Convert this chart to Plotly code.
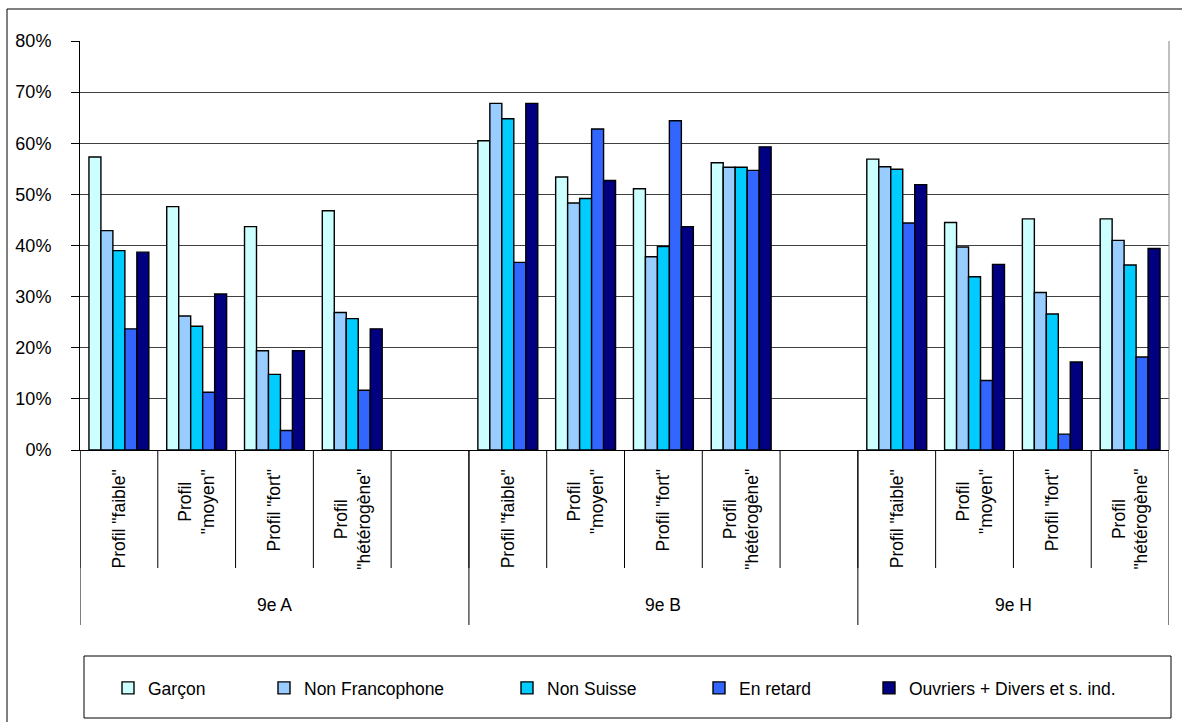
import plotly.graph_objects as go

# ---------------- data ----------------
groups = ["9e A", "9e B", "9e H"]
groups_with_blank_slot = ["9e A", "9e B"]
profiles = ['Profil "faible"', 'Profil<br>"moyen"', 'Profil "fort"', 'Profil<br>"hétérogène"']

series_names = ["Garçon", "Non Francophone", "Non Suisse", "En retard",
                "Ouvriers + Divers et s. ind."]
series_colors = ["#CCFFFF", "#99CCFF", "#00CCFF", "#3366FF", "#000080"]

# values in %, order: 9e A (4 profiles), 9e B (4 profiles), 9e H (4 profiles)
garcon = [57.3, 47.6, 43.7, 46.8, 60.5, 53.4, 51.1, 56.2, 56.9, 44.5, 45.2, 45.2]
non_francophone = [42.9, 26.2, 19.4, 26.9, 67.8, 48.3, 37.8, 55.3, 55.4, 39.7, 30.8, 41.0]
non_suisse = [39.0, 24.2, 14.8, 25.7, 64.8, 49.2, 39.8, 55.3, 54.9, 33.9, 26.6, 36.2]
en_retard = [23.7, 11.3, 3.8, 11.7, 36.7, 62.8, 64.4, 54.7, 44.4, 13.6, 3.1, 18.2]
ouvriers = [38.7, 30.5, 19.4, 23.7, 67.8, 52.7, 43.7, 59.3, 51.9, 36.3, 17.2, 39.4]

series_values = [garcon, non_francophone, non_suisse, en_retard, ouvriers]

y_ticks = [0, 10, 20, 30, 40, 50, 60, 70, 80]
y_tick_labels = ["0%", "10%", "20%", "30%", "40%", "50%", "60%", "70%", "80%"]

# ---------------- category slots ----------------
slot_ids = []        # all slots (incl. blanks), in axis order
data_ids = []        # slots carrying data
slot_label = {}
group_slots = {}
for g in groups:
    group_slots[g] = []
    for j, p in enumerate(profiles):
        sid = f"{g}|{j}"
        slot_ids.append(sid)
        data_ids.append(sid)
        slot_label[sid] = p
        group_slots[g].append(sid)
    if g in groups_with_blank_slot:
        sid = f"{g}|blank"
        slot_ids.append(sid)
        group_slots[g].append(sid)

# ---------------- layout geometry (pixels) ----------------
W, H = 1182, 722
ML, MR, MT, MB = 80, 13, 41, 272
PW = W - ML - MR
PH = H - MT - MB
AXIS_Y = MT + PH


def py(y_px):
    return (AXIS_Y - y_px) / PH


def pxx(x_px):
    return (x_px - ML) / PW


FONT = "Liberation Sans, Arial, sans-serif"

# legend item left positions (px) for each series
legend_left_px = [108, 264, 507, 699, 869]
legend_keys = ["legend", "legend2", "legend3", "legend4", "legend5"]

fig = go.Figure()
for name, color, vals, lk in zip(series_names, series_colors, series_values, legend_keys):
    fig.add_trace(go.Bar(
        x=data_ids, y=vals, name=name, legend=lk,
        marker=dict(color=color, line=dict(color="black", width=1.4)),
    ))

shapes = []
annotations = []
n_slots = len(slot_ids)

# inner dividers and rotated profile labels
for i, sid in enumerate(slot_ids):
    shapes.append(dict(type="line", xref="x", yref="paper",
                       x0=i - 0.5, x1=i - 0.5, y0=0, y1=py(568),
                       line=dict(color="black", width=1)))
    if sid in slot_label:
        annotations.append(dict(
            x=sid, xref="x", y=py(467), yref="paper",
            text=slot_label[sid], textangle=-90, showarrow=False,
            xanchor="center", yanchor="top", align="center",
            font=dict(family=FONT, size=17.5, color="black")))

# group dividers and group labels
start = 0
for g in groups:
    n = len(group_slots[g])
    shapes.append(dict(type="line", xref="x", yref="paper",
                       x0=start - 0.5, x1=start - 0.5, y0=0, y1=py(625),
                       line=dict(color="black", width=1)))
    annotations.append(dict(
        x=start + (n - 1) / 2, xref="x", y=py(605), yref="paper",
        text=g, showarrow=False, xanchor="center", yanchor="middle",
        font=dict(family=FONT, size=17.5, color="black")))
    start += n
shapes.append(dict(type="line", xref="x", yref="paper",
                   x0=n_slots - 0.5, x1=n_slots - 0.5, y0=0, y1=py(625),
                   line=dict(color="black", width=1)))
# right edge of plot area
shapes.append(dict(type="line", xref="paper", yref="paper",
                   x0=1, x1=1, y0=0, y1=1, line=dict(color="#808080", width=1)))
# legend frame
shapes.append(dict(type="rect", xref="paper", yref="paper",
                   x0=pxx(84), x1=pxx(1171), y0=py(656), y1=py(718),
                   line=dict(color="black", width=1), fillcolor="rgba(0,0,0,0)"))
# outer chart frame
shapes.append(dict(type="rect", xref="paper", yref="paper",
                   x0=pxx(7), x1=pxx(1195), y0=py(9), y1=py(735),
                   line=dict(color="black", width=1), fillcolor="rgba(0,0,0,0)"))

legend_layouts = {}
for lk, lx in zip(legend_keys, legend_left_px):
    legend_layouts[lk] = dict(
        orientation="h", x=pxx(lx), xanchor="left",
        y=py(688), yanchor="middle", bgcolor="rgba(0,0,0,0)",
        borderwidth=0, font=dict(family=FONT, size=17.5, color="black"))

fig.update_layout(
    width=W, height=H,
    margin=dict(l=ML, r=MR, t=MT, b=MB, pad=0),
    paper_bgcolor="white", plot_bgcolor="white",
    barmode="group", bargap=0.23, bargroupgap=0,
    font=dict(family=FONT, size=17.5, color="black"),
    xaxis=dict(type="category", categoryorder="array", categoryarray=slot_ids,
               range=[-0.5, n_slots - 0.5], showticklabels=False, ticks="",
               showgrid=False, showline=True, linecolor="black", linewidth=1,
               zeroline=False, fixedrange=True),
    yaxis=dict(range=[0, 80], tickmode="array", tickvals=y_ticks,
               ticktext=y_tick_labels,
               ticks="outside", ticklen=8, tickcolor="black",
               showline=True, linecolor="black", linewidth=1,
               showgrid=True, gridcolor="#404040", gridwidth=1,
               zeroline=False, tickfont=dict(family=FONT, size=18),
               ticklabelstandoff=16),
    shapes=shapes, annotations=annotations,
    showlegend=True,
    **legend_layouts,
)

fig.write_html(
    "out.html",
    config={"displayModeBar": False},
    post_script="document.body.style.margin='0';document.body.style.overflow='hidden';",
)
